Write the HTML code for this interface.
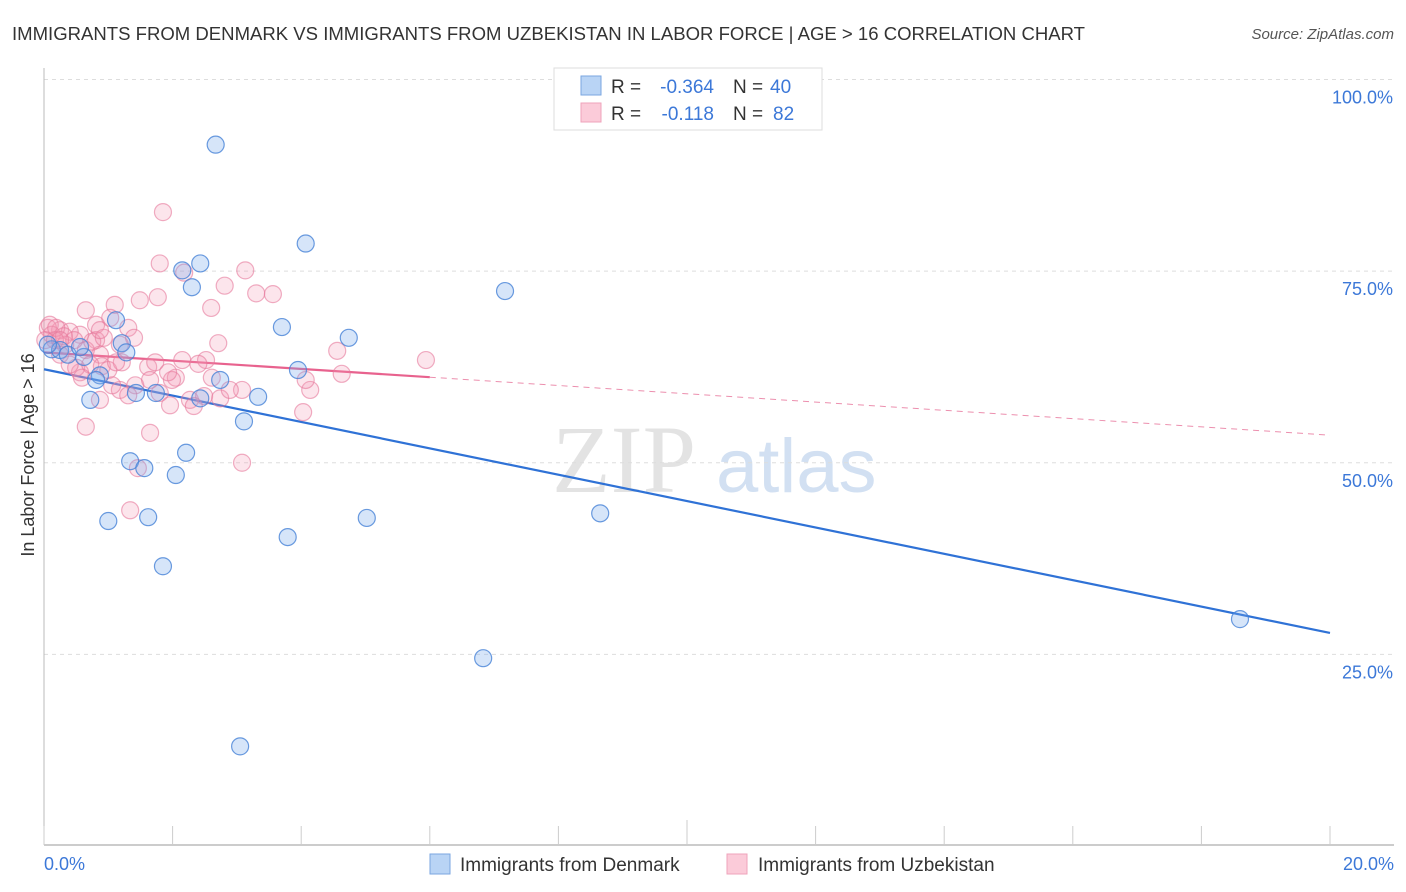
<!DOCTYPE html>
<html><head><meta charset="utf-8"><style>
body{margin:0;background:#fff;font-family:"Liberation Sans",sans-serif;}
svg{display:block}
</style></head><body>
<svg id="chart" width="1406" height="892">
<text x="12" y="40" font-size="18" fill="#333" textLength="1073" lengthAdjust="spacingAndGlyphs">IMMIGRANTS FROM DENMARK VS IMMIGRANTS FROM UZBEKISTAN IN LABOR FORCE | AGE &gt; 16 CORRELATION CHART</text>
<text x="1394" y="39" font-size="15" fill="#555" font-style="italic" text-anchor="end">Source: ZipAtlas.com</text>
<g><text x="552" y="492" font-size="96" fill="#ddd" font-family="Liberation Serif,serif" opacity="0.8">ZIP</text><text x="716" y="492" font-size="76" fill="#c7d9ef" opacity="0.8">atlas</text></g>
<g id="grid"></g><g id="axes"></g><g id="trend"></g><g id="pts"></g>
<text transform="translate(34,455) rotate(-90)" font-size="18" fill="#333" text-anchor="middle">In Labor Force | Age &gt; 16</text>
<g>
<rect x="554" y="68" width="268" height="62" fill="#fff" stroke="#ddd"/>
<rect x="581" y="76" width="20" height="19" fill="#b9d4f5" stroke="#7aa6e0"/>
<rect x="581" y="103" width="20" height="19" fill="#fbcbd9" stroke="#efa3bb"/>
<text x="611" y="93" font-size="19" fill="#333">R =</text>
<text x="714" y="93" font-size="19" fill="#3c78d8" text-anchor="end">-0.364</text>
<text x="733" y="93" font-size="19" fill="#333">N =</text>
<text x="770" y="93" font-size="19" fill="#3c78d8">40</text>
<text x="611" y="120" font-size="19" fill="#333">R =</text>
<text x="714" y="120" font-size="19" fill="#3c78d8" text-anchor="end">-0.118</text>
<text x="733" y="120" font-size="19" fill="#333">N =</text>
<text x="773" y="120" font-size="19" fill="#3c78d8">82</text>
</g>
<g>
<rect x="430" y="854" width="20" height="20" fill="#b9d4f5" stroke="#7aa6e0"/>
<text x="460" y="871" font-size="19" fill="#333">Immigrants from Denmark</text>
<rect x="727" y="854" width="20" height="20" fill="#fbcbd9" stroke="#efa3bb"/>
<text x="758" y="871" font-size="19" fill="#333">Immigrants from Uzbekistan</text>
</g>
</svg>
<script>
const xTicks=[0,2,4,6,8,10,12,14,16,18,20];
const yTicks=[25,50,75,100];
const yTickLabels=["25.0%","50.0%","75.0%","100.0%"];
const xLabels=["0.0%","20.0%"];
const denX=[2.67,4.07,7.17,2.43,2.15,2.30,3.70,4.74,1.12,1.21,1.28,0.12,0.25,0.37,0.62,0.87,0.81,0.72,1.43,1.74,2.74,3.95,3.33,3.11,1.34,1.56,2.21,2.05,1.00,1.62,1.85,3.79,5.02,8.65,6.83,3.05,18.60,2.43,0.06,0.56];
const denY=[91.5,78.6,72.4,76.0,75.1,72.9,67.7,66.3,68.6,65.6,64.4,64.8,64.7,64.1,63.8,61.4,60.8,58.2,59.1,59.1,60.8,62.1,58.6,55.4,50.2,49.3,51.3,48.4,42.4,42.9,36.5,40.3,42.8,43.4,24.5,13.0,29.6,58.4,65.4,65.1];
const uzbX=[1.85,1.80,2.18,3.13,2.81,3.30,3.56,1.49,1.77,2.60,0.65,1.10,1.03,1.31,0.81,1.40,0.81,0.56,0.25,0.06,0.12,0.40,0.02,0.33,0.17,1.18,0.87,0.90,1.00,1.21,1.62,1.73,2.15,2.52,2.40,2.71,2.05,0.56,0.50,1.18,1.42,1.80,1.96,2.27,2.49,2.33,3.08,4.14,4.07,4.03,1.65,0.65,1.46,3.08,1.34,4.56,4.63,5.94,0.65,0.72,0.40,1.06,0.87,0.25,0.09,0.19,0.31,0.47,0.75,0.93,1.31,2.74,2.89,1.12,1.99,2.61,1.65,0.59,1.93,0.25,0.87];
const uzbY=[82.7,76.0,74.8,75.1,73.1,72.1,72.0,71.2,71.6,70.2,69.9,70.6,68.9,67.6,68.0,66.3,66.0,66.7,67.3,67.6,66.7,67.1,66.0,65.4,66.0,65.4,64.1,62.6,62.1,63.1,62.5,63.1,63.4,63.4,62.9,65.6,61.1,61.8,62.4,59.5,60.1,59.1,57.5,58.2,58.7,57.4,59.5,59.5,60.8,56.6,53.9,54.7,49.3,50.0,43.8,64.6,61.6,63.4,64.7,62.8,62.8,60.1,58.2,64.1,68.0,67.6,66.5,66.0,65.8,66.3,58.8,58.4,59.5,63.1,60.8,61.1,60.8,61.1,61.8,66.0,67.3];
const denTrend=[62.2,27.8];
const uzbTrend=[64.4,53.6];
const uzbSolidEnd=6.0;
const NS="http://www.w3.org/2000/svg";
const X=v=>44+v/20*1286, Y=v=>846-v/100*766.5;
function mk(t,a,p){const e=document.createElementNS(NS,t);for(const k in a)e.setAttribute(k,a[k]);p.appendChild(e);return e;}
const grid=document.getElementById('grid'),axes=document.getElementById('axes');
yTicks.forEach((t,i)=>{
 const l=mk('line',{x1:44,x2:1394,y1:Y(t),y2:Y(t),stroke:'#ddd','stroke-dasharray':'4 4'},grid);
 
 
 const tx=mk('text',{x:1393,y:Y(t)+24,'font-size':18,fill:'#3c78d8','text-anchor':'end'},axes);
 tx.textContent=yTickLabels[i];
 
 
});
const ax=mk('line',{x1:44,x2:1394,y1:845,y2:845,stroke:'#bbb','stroke-width':1.5},axes);


const ay=mk('line',{x1:44,x2:44,y1:68,y2:845,stroke:'#bbb','stroke-width':1},axes);


xTicks.forEach(t=>{
 const l=mk('line',{x1:X(t),x2:X(t),y1:(t==10?820:826),y2:845,stroke:'#ccc'},axes);
 
 
});
[[0,'start'],[20,'end']].forEach((p,i)=>{
 const tx=mk('text',{x:p[0]==0?44:1394,y:870,'font-size':18,fill:'#3c78d8','text-anchor':p[1]},axes);
 tx.textContent=xLabels[i];
 
 
});
const pts=document.getElementById('pts');
uzbX.forEach((x,i)=>{
 const c=mk('circle',{cx:X(x),cy:Y(uzbY[i]),r:8.5,fill:'rgba(244,150,180,0.25)',stroke:'rgba(230,120,155,0.6)','stroke-width':1.2},pts);
 
 
});
denX.forEach((x,i)=>{
 const c=mk('circle',{cx:X(x),cy:Y(denY[i]),r:8.5,fill:'rgba(120,170,235,0.3)',stroke:'rgba(70,130,215,0.8)','stroke-width':1.2},pts);
 
 
});
const tr=document.getElementById('trend');
const bl=mk('line',{x1:X(0),y1:Y(denTrend[0]),x2:X(20),y2:Y(denTrend[1]),stroke:'#2f72d6','stroke-width':2.2},tr);


const uy=x=>uzbTrend[0]+(uzbTrend[1]-uzbTrend[0])*x/20;
const pl=mk('line',{x1:X(0),y1:Y(uy(0)),x2:X(uzbSolidEnd),y2:Y(uy(uzbSolidEnd)),stroke:'#e8628e','stroke-width':2.2},tr);


const pd=mk('line',{x1:X(uzbSolidEnd),y1:Y(uy(uzbSolidEnd)),x2:X(20),y2:Y(uy(20)),stroke:'#ec8fae','stroke-width':1,'stroke-dasharray':'6 5'},tr);


</script>
</body></html>
